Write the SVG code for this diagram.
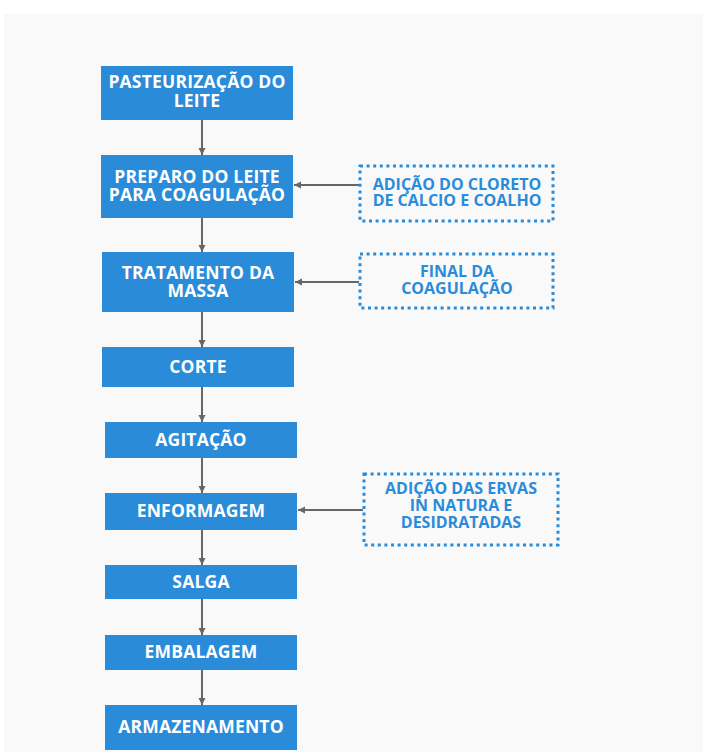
<svg xmlns="http://www.w3.org/2000/svg" width="703" height="754" viewBox="0 0 703 754">
<style>
.box{fill:#2a8bd9;}
.side{fill:none;stroke:#2a8bd9;stroke-width:3;stroke-dasharray:3 3.6;}
.t{font-family:"Open Sans","Liberation Sans",sans-serif;font-weight:700;font-size:17.5px;fill:#ffffff;text-anchor:middle;letter-spacing:0.2px;}
.s{font-family:"Open Sans","Liberation Sans",sans-serif;font-weight:700;font-size:16px;fill:#2a8bd9;text-anchor:middle;}
.c{stroke:#666666;stroke-width:2;fill:none;marker-end:url(#ah);}
</style>
<defs>
<marker id="ah" markerWidth="8" markerHeight="8" refX="7" refY="4" orient="auto" markerUnits="userSpaceOnUse">
<path d="M0,0.5 L7,4 L0,7.5 z" fill="#666666"/>
</marker>
</defs>
<rect x="0" y="0" width="703" height="754" fill="#ffffff"/>
<rect x="4" y="14" width="699" height="738" fill="#f9f9f9"/>
<g id="connectors">
<line class="c" x1="202" y1="120" x2="202" y2="155"/>
<line class="c" x1="202" y1="218" x2="202" y2="252"/>
<line class="c" x1="202" y1="312" x2="202" y2="347"/>
<line class="c" x1="202" y1="387" x2="202" y2="422"/>
<line class="c" x1="202" y1="458" x2="202" y2="493"/>
<line class="c" x1="202" y1="530" x2="202" y2="565"/>
<line class="c" x1="202" y1="599" x2="202" y2="635"/>
<line class="c" x1="202" y1="670" x2="202" y2="705"/>
<line class="c" x1="359" y1="185" x2="294" y2="185"/>
<line class="c" x1="359" y1="282" x2="295" y2="282"/>
<line class="c" x1="363" y1="510" x2="298" y2="510"/>
</g>
<g id="n1"><rect class="box" x="101" y="66" width="192" height="54"/>
<text class="t" x="197" y="88">PASTEURIZAÇÃO DO</text><text class="t" x="197" y="107">LEITE</text></g>
<g id="n2"><rect class="box" x="101" y="155" width="192" height="63"/>
<text class="t" x="197" y="183">PREPARO DO LEITE</text><text class="t" x="197" y="201">PARA COAGULAÇÃO</text></g>
<g id="n3"><rect class="box" x="102" y="252" width="192" height="60"/>
<text class="t" x="198" y="279">TRATAMENTO DA</text><text class="t" x="198" y="297">MASSA</text></g>
<g id="n4"><rect class="box" x="102" y="347" width="192" height="40"/>
<text class="t" x="198" y="373">CORTE</text></g>
<g id="n5"><rect class="box" x="105" y="422" width="192" height="36"/>
<text class="t" x="201" y="446">AGITAÇÃO</text></g>
<g id="n6"><rect class="box" x="105" y="493" width="192" height="37"/>
<text class="t" x="201" y="517">ENFORMAGEM</text></g>
<g id="n7"><rect class="box" x="105" y="565" width="192" height="34"/>
<text class="t" x="201" y="588">SALGA</text></g>
<g id="n8"><rect class="box" x="105" y="635" width="192" height="35"/>
<text class="t" x="201" y="658">EMBALAGEM</text></g>
<g id="n9"><rect class="box" x="105" y="705" width="192" height="45"/>
<text class="t" x="201" y="733">ARMAZENAMENTO</text></g>
<g id="s1"><rect class="side" x="360" y="166" width="193" height="55"/>
<text class="s" x="457" y="190">ADIÇÃO DO CLORETO</text><text class="s" x="457" y="206">DE CALCIO E COALHO</text></g>
<g id="s2"><rect class="side" x="360" y="254" width="193" height="54"/>
<text class="s" x="457" y="277">FINAL DA</text><text class="s" x="457" y="294">COAGULAÇÃO</text></g>
<g id="s3"><rect class="side" x="364" y="474" width="194" height="71"/>
<text class="s" x="461" y="494">ADIÇÃO DAS ERVAS</text><text class="s" x="461" y="511">IN NATURA E</text><text class="s" x="461" y="528">DESIDRATADAS</text></g>
</svg>
